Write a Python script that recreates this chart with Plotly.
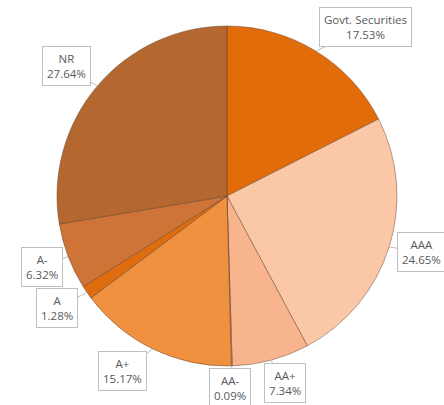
import math
import plotly.graph_objects as go

# Portfolio rating split
ratings = ["Govt. Securities", "AAA", "AA+", "AA-", "A+", "A", "A-", "NR"]
shares = [17.53, 24.65, 7.34, 0.09, 15.17, 1.28, 6.32, 27.64]
colors = ["#E36C0A", "#FBC8A7", "#F8B48D", "#F3A774", "#F0913F", "#DF6D10", "#CD7436", "#B4682F"]

# callout box offsets (pixels, relative to slice edge)
offsets = {
    "Govt. Securities": (50, -24),
    "AAA": (32, 5),
    "AA+": (14, 23),
    "AA-": (-2, 22),
    "A+": (-30, 22),
    "A": (-30, 16),
    "A-": (-26, 10),
    "NR": (-31, -20),
}

W, H = 444, 405
cx_px, cy_px, r_px = 227, 196, 170
dom_x = [(cx_px - r_px) / W, (cx_px + r_px) / W]
dom_y = [(H - cy_px - r_px) / H, (H - cy_px + r_px) / H]

fig = go.Figure(go.Pie(
    labels=ratings,
    values=shares,
    sort=False,
    direction="clockwise",
    rotation=0,
    marker=dict(colors=colors, line=dict(color="rgba(90,60,40,0.45)", width=1)),
    textinfo="none",
    hoverinfo="label+percent",
    domain=dict(x=dom_x, y=dom_y),
    showlegend=False,
))

total = sum(shares)
cum = 0.0
annotations = []
for name, v in zip(ratings, shares):
    mid = (cum + v / 2) / total * 2 * math.pi
    cum += v
    tx = (cx_px + r_px * math.sin(mid)) / W
    ty = (H - cy_px + r_px * math.cos(mid)) / H
    ax, ay = offsets[name]
    annotations.append(dict(
        x=tx, y=ty, xref="paper", yref="paper",
        text=f"{name}<br>{v:.2f}%",
        showarrow=True, arrowhead=0, arrowwidth=1, arrowcolor="#BFBFBF",
        ax=ax, ay=ay, standoff=0,
        bgcolor="white", bordercolor="#BFBFBF", borderwidth=1, borderpad=4,
        font=dict(family="Open Sans", size=11.5, color="#595959"),
        align="center",
    ))

fig.update_layout(
    width=W, height=H,
    margin=dict(l=0, r=0, t=0, b=0),
    paper_bgcolor="white",
    plot_bgcolor="white",
    annotations=annotations,
)

fig.write_html("out.html")
